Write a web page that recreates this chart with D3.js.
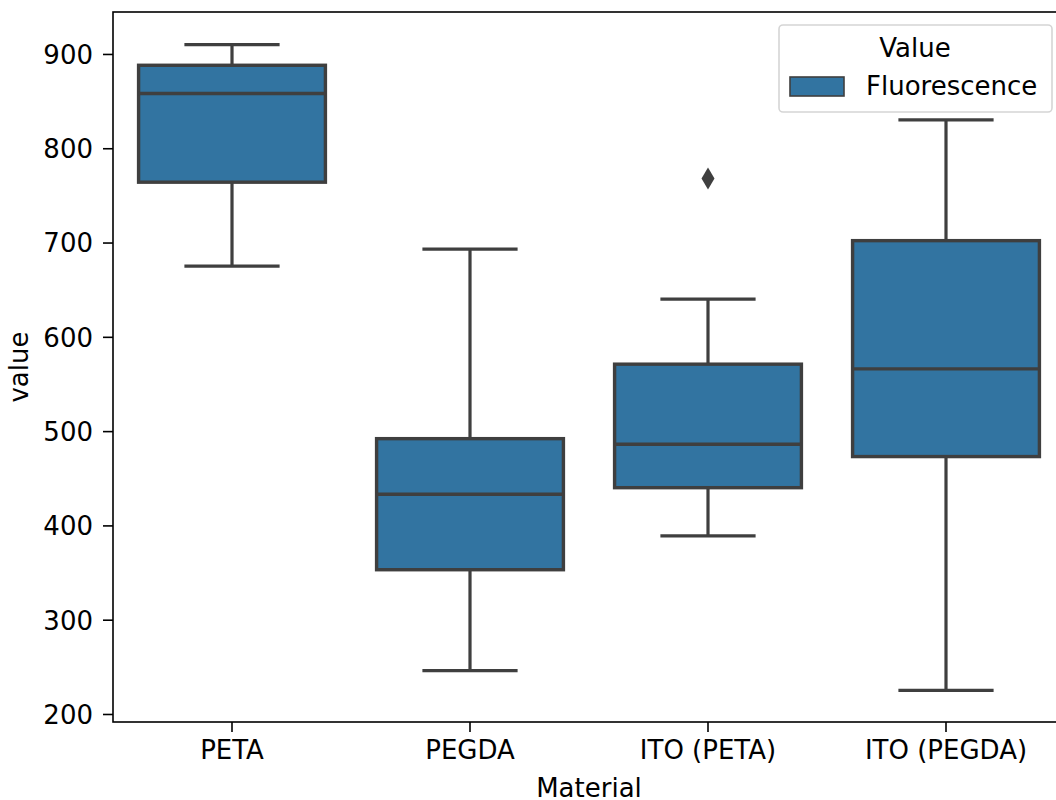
<!DOCTYPE html>
<html>
<head>
<meta charset="utf-8">
<script src="https://cdn.jsdelivr.net/npm/d3@7"></script>
<style>
  html, body { margin: 0; padding: 0; background: #fff; }
  svg { display: block; font-family: "DejaVu Sans", sans-serif; }
</style>
</head>
<body>
<svg id="chart" width="1056" height="800"></svg>
<script>
// values
const materials = ['PETA', 'PEGDA', 'ITO (PETA)', 'ITO (PEGDA)'];
const whiskerLow = [675, 246, 389, 225];
const q1 = [764, 353, 440, 473];
const median = [858, 433, 486, 566];
const q3 = [888, 492, 571, 702];
const whiskerHigh = [910, 693, 640, 830];
const outliers = [[], [], [768], []];
const yTicks = [200, 300, 400, 500, 600, 700, 800, 900];
const legendTitle = 'Value';
const legendLabel = 'Fluorescence';

const boxes = materials.map((m, i) => ({
  material: m,
  lo: whiskerLow[i], q1: q1[i], med: median[i], q3: q3[i], hi: whiskerHigh[i],
  out: outliers[i]
}));

const fill = '#3274a1';
const lineColor = '#3f3f3f';
const fontSize = 26;

const svg = d3.select('#chart');
const margin = { left: 113, top: 12, right: 1065, bottom: 722 };

const x = d3.scaleBand()
  .domain(materials)
  .range([margin.left, margin.right]);

const y = d3.scaleLinear()
  .domain([191.5, 944.5])
  .range([margin.bottom, margin.top]);

const boxW = x.bandwidth() * 0.785;
const capW = x.bandwidth() * 0.4;

// axes
const yAxis = svg.append('g')
  .attr('transform', `translate(${margin.left},0)`)
  .call(d3.axisLeft(y).tickValues(yTicks).tickSize(10).tickPadding(10));

const xAxis = svg.append('g')
  .attr('transform', `translate(0,${margin.bottom})`)
  .call(d3.axisBottom(x).tickSize(10).tickPadding(9));

[xAxis, yAxis].forEach(g => {
  g.select('.domain').remove();
  g.selectAll('.tick line').attr('stroke', '#000').attr('stroke-width', 1.6);
  g.selectAll('.tick text')
    .attr('fill', '#000')
    .style('font-size', fontSize + 'px')
    .style('font-family', '"DejaVu Sans", sans-serif');
});
yAxis.selectAll('.tick text').attr('dy', '0.36em');

// spines
svg.append('rect')
  .attr('x', margin.left)
  .attr('y', margin.top)
  .attr('width', margin.right - margin.left)
  .attr('height', margin.bottom - margin.top)
  .attr('fill', 'none')
  .attr('stroke', '#000')
  .attr('stroke-width', 1.6);

// boxes
const g = svg.append('g').attr('class', 'boxes');

const box = g.selectAll('g.box')
  .data(boxes)
  .enter().append('g')
    .attr('class', 'box');

const cx = d => x(d.material) + x.bandwidth() / 2;

box.append('line')
  .attr('x1', cx).attr('x2', cx)
  .attr('y1', d => y(d.q3)).attr('y2', d => y(d.hi))
  .attr('stroke', lineColor).attr('stroke-width', 3.2);

box.append('line')
  .attr('x1', cx).attr('x2', cx)
  .attr('y1', d => y(d.q1)).attr('y2', d => y(d.lo))
  .attr('stroke', lineColor).attr('stroke-width', 3.2);

box.append('line')
  .attr('x1', d => cx(d) - capW / 2).attr('x2', d => cx(d) + capW / 2)
  .attr('y1', d => y(d.hi)).attr('y2', d => y(d.hi))
  .attr('stroke', lineColor).attr('stroke-width', 3.2);

box.append('line')
  .attr('x1', d => cx(d) - capW / 2).attr('x2', d => cx(d) + capW / 2)
  .attr('y1', d => y(d.lo)).attr('y2', d => y(d.lo))
  .attr('stroke', lineColor).attr('stroke-width', 3.2);

box.append('rect')
  .attr('x', d => cx(d) - boxW / 2)
  .attr('width', boxW)
  .attr('y', d => y(d.q3))
  .attr('height', d => y(d.q1) - y(d.q3))
  .attr('fill', fill)
  .attr('stroke', lineColor)
  .attr('stroke-width', 3.4);

box.append('line')
  .attr('x1', d => cx(d) - boxW / 2).attr('x2', d => cx(d) + boxW / 2)
  .attr('y1', d => y(d.med)).attr('y2', d => y(d.med))
  .attr('stroke', lineColor).attr('stroke-width', 3.4);

// outliers as thin diamonds
box.selectAll('path.flier')
  .data(d => d.out.map(v => ({ material: d.material, v })))
  .enter().append('path')
    .attr('class', 'flier')
    .attr('d', 'M0,-11L6.5,0L0,11L-6.5,0Z')
    .attr('transform', d => `translate(${cx(d)},${y(d.v)})`)
    .attr('fill', lineColor);

// axis labels
svg.append('text')
  .attr('x', (margin.left + margin.right) / 2)
  .attr('y', 797)
  .attr('text-anchor', 'middle')
  .style('font-size', fontSize + 'px')
  .text('Material');

svg.append('text')
  .attr('transform', `translate(28,${(margin.top + margin.bottom) / 2}) rotate(-90)`)
  .attr('text-anchor', 'middle')
  .style('font-size', fontSize + 'px')
  .text('value');

// legend
const legend = svg.append('g').attr('class', 'legend');

legend.append('rect')
  .attr('x', 779).attr('y', 25)
  .attr('width', 273).attr('height', 87)
  .attr('rx', 4)
  .attr('fill', '#fff').attr('fill-opacity', 0.8)
  .attr('stroke', '#d5d5d5').attr('stroke-width', 1.6);

legend.append('text')
  .attr('x', 915).attr('y', 57)
  .attr('text-anchor', 'middle')
  .style('font-size', fontSize + 'px')
  .text(legendTitle);

legend.append('rect')
  .attr('x', 790).attr('y', 77)
  .attr('width', 54).attr('height', 19)
  .attr('fill', fill)
  .attr('stroke', lineColor).attr('stroke-width', 1.6);

legend.append('text')
  .attr('x', 866).attr('y', 95)
  .style('font-size', fontSize + 'px')
  .text(legendLabel);
</script>
</body>
</html>
